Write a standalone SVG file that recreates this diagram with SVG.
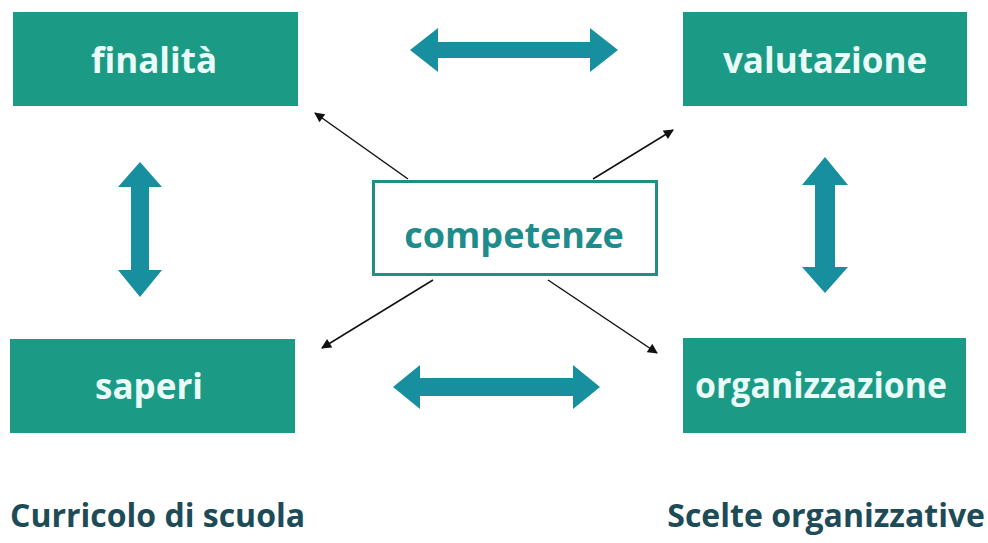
<svg xmlns="http://www.w3.org/2000/svg" width="988" height="543" viewBox="0 0 988 543">
<defs>
<style>
.box{fill:#1b9a85;}
.lbl{font-family:"Open Sans","Liberation Sans",sans-serif;font-weight:700;font-size:35px;fill:#eafcf8;text-anchor:middle;}
.ctr{font-family:"Open Sans","Liberation Sans",sans-serif;font-weight:700;font-size:36px;fill:#1f8c8c;text-anchor:middle;}
.cap{font-family:"Open Sans","Liberation Sans",sans-serif;font-weight:700;font-size:32px;fill:#1d4b58;}
.big{fill:#178f9e;}
.thin{stroke:#111;stroke-width:1.5;fill:none;marker-end:url(#ah);}
</style>
<marker id="ah" viewBox="0 0 10 10" refX="9" refY="5" markerWidth="11" markerHeight="10" markerUnits="userSpaceOnUse" orient="auto">
<path d="M0,0 L10,5 L0,10 z" fill="#111"/>
</marker>
</defs>
<rect width="988" height="543" fill="#ffffff"/>
<g id="connectors">
<path class="big" d="M410,50 L438,28 L438,42 L590,42 L590,28 L618,50 L590,72 L590,58 L438,58 L438,72 Z"/>
<path class="big" d="M393,387 L420,365 L420,378 L573,378 L573,365 L600,387 L573,409 L573,396 L420,396 L420,409 Z"/>
<path class="big" d="M140,162 L162,187 L149,187 L149,270 L162,270 L140,297 L118,270 L131,270 L131,187 L118,187 Z"/>
<path class="big" d="M825,157 L848,185 L835,185 L835,267 L848,267 L825,293 L802,267 L815,267 L815,185 L802,185 Z"/>
<line class="thin" x1="408" y1="179" x2="315" y2="113"/>
<line class="thin" x1="593" y1="179" x2="673" y2="130"/>
<line class="thin" x1="433" y1="280" x2="322" y2="348"/>
<line class="thin" x1="548" y1="280" x2="657" y2="353"/>
</g>
<g id="finalita">
<rect class="box" x="13" y="12" width="285" height="94"/>
<text class="lbl" x="154" y="73">finalità</text>
</g>
<g id="valutazione">
<rect class="box" x="683" y="12" width="284" height="94"/>
<text class="lbl" x="825" y="73">valutazione</text>
</g>
<g id="saperi">
<rect class="box" x="10" y="339" width="285" height="94"/>
<text class="lbl" x="149" y="399">saperi</text>
</g>
<g id="organizzazione">
<rect class="box" x="683" y="338" width="283" height="95"/>
<text class="lbl" x="821" y="398" textLength="252" lengthAdjust="spacingAndGlyphs">organizzazione</text>
</g>
<g id="competenze">
<rect x="373.5" y="181.5" width="283" height="93" fill="#ffffff" stroke="#1f8f86" stroke-width="3"/>
<text class="ctr" x="514" y="248">competenze</text>
</g>
<g id="captions">
<text class="cap" x="10" y="527">Curricolo di scuola</text>
<text class="cap" x="985" y="527" text-anchor="end">Scelte organizzative</text>
</g>
</svg>
